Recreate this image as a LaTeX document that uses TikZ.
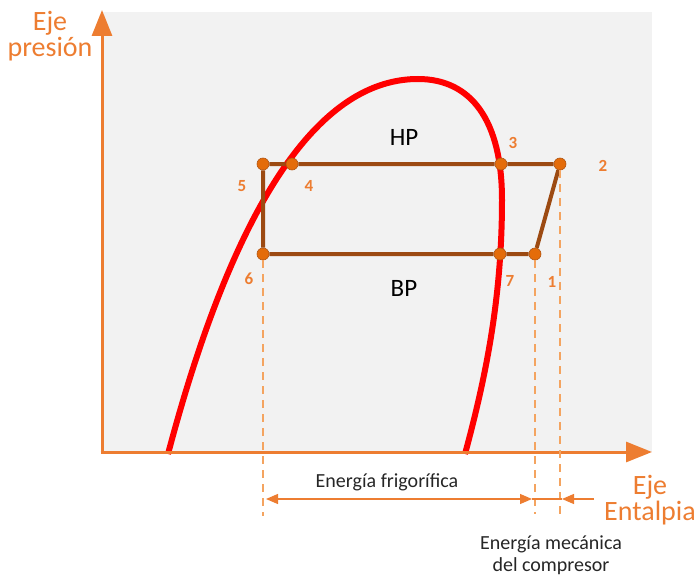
\documentclass[tikz,border=0pt]{standalone}
\usepackage{fontspec}
\setmainfont{Carlito}
\usetikzlibrary{arrows.meta}
\definecolor{axisorange}{HTML}{ED7D31}
\definecolor{cyclebrown}{HTML}{9C4A12}
\definecolor{dotorange}{HTML}{E46C0A}
\definecolor{dimorange}{HTML}{F4A460}
\definecolor{bggray}{HTML}{F2F2F2}
\tikzset{
  axis/.style={axisorange, line width=3pt, -{Triangle[length=26pt,width=20pt]}},
  cycle/.style={cyclebrown, line width=4pt},
  dot/.style={circle, fill=dotorange, draw=cyclebrown!70!dotorange, line width=0.6pt, minimum size=12pt, inner sep=0pt},
  num/.style={text=axisorange, font=\fontsize{17}{20}\selectfont\bfseries},
  guide/.style={dimorange, line width=1.3pt, dash pattern=on 8pt off 6pt},
  dim/.style={axisorange, line width=1.3pt},
  axislabel/.style={text=axisorange, font=\fontsize{28}{32}\selectfont, align=center},
}
\begin{document}
\begin{tikzpicture}[x=1pt, y=-1pt]
  \useasboundingbox (0,0) rectangle (697,578);
  % Background of the diagram
  \fill[bggray] (102,12) rectangle (652,452);

  % Saturation curve
  \draw[red, line width=6pt] (168,454) .. controls (246,160) and (338,79) .. (418,79)
    .. controls (471,79) and (502,120) .. (502,200)
    .. controls (502,300) and (485,380) .. (465,454);

  % Axes
  \coordinate (o) at (102,452);
  \coordinate (ytip) at (102,10);
  \coordinate (xtip) at (652,452);
  \draw[axis] (o) -- (ytip);
  \draw[axis] ([xshift=-1.5pt]o) -- (xtip);
  \node[axislabel] (ylab) at (50,36) {Eje\\[-6pt]presión};
  \node[axislabel] (xlab) at (650,500) {Eje\\[-6pt]Entalpia};

  % Cycle points
  \foreach \n/\x/\y in {1/535/254, 2/560/164, 3/501/164, 4/292/164, 5/263/164, 6/263/254, 7/500/254}
    \node[dot] (p\n) at (\x,\y) {};

  % Cycle lines
  \draw[cycle] (p5) -- (p4) -- (p3) -- (p2) -- (p1) -- (p7) -- (p6) -- (p5);

  % Point labels
  \node[num] (l1) at (552,282) {1};
  \node[num] (l2) at (603,166) {2};
  \node[num] (l3) at (513,143) {3};
  \node[num] (l4) at (309,186) {4};
  \node[num] (l5) at (242,186) {5};
  \node[num] (l6) at (249,279) {6};
  \node[num] (l7) at (510,281) {7};
  \node[font=\fontsize{25}{28}\selectfont] (hp) at (404,137) {HP};
  \node[font=\fontsize{25}{28}\selectfont] (bp) at (404,288) {BP};

  % Dashed guides down from the points
  \coordinate (g6) at (263,516);
  \coordinate (g1) at (535,514);
  \coordinate (g2) at (560,514);
  \draw[guide] (p6) -- (g6);
  \draw[guide] (p1) -- (g1);
  \draw[guide] (p2) -- (g2);

  % Energy arrows
  \coordinate (a6) at (266,499);
  \coordinate (a1) at (532,499);
  \coordinate (a2) at (562,499);
  \coordinate (aend) at (594,499);
  \draw[dim, {Triangle[length=12pt,width=10pt]}-{Triangle[length=12pt,width=10pt]}] (a6) -- (a1);
  \draw[dim] (a1) -- (a2);
  \draw[dim, -{Triangle[length=12pt,width=10pt]}] (aend) -- (a2);
  \node[text=black!85, font=\fontsize{20}{24}\selectfont] (ef) at (387,482) {Energía frigorífica};
  \node[text=black!85, font=\fontsize{20}{24}\selectfont, align=center] (em) at (551,555) {Energía mecánica\\[-2pt]del compresor};
\end{tikzpicture}
\end{document}
